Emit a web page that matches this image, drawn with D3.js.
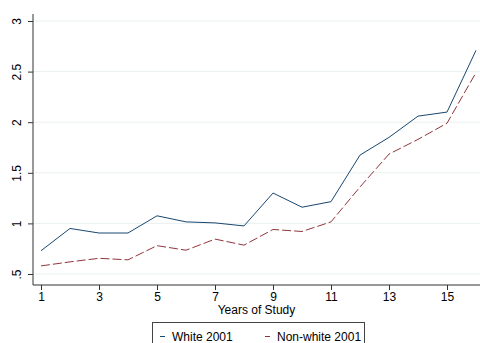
<!DOCTYPE html>
<html>
<head>
<meta charset="utf-8">
<script src="https://cdn.jsdelivr.net/npm/d3@7"></script>
<style>
  body { margin: 0; background: #fff; }
  text { font-family: "Liberation Sans", Arial, sans-serif; }
</style>
</head>
<body>
<div id="chart"></div>
<script>
const years = [1, 2, 3, 4, 5, 6, 7, 8, 9, 10, 11, 12, 13, 14, 15, 16]
const white2001 = [0.73, 0.95, 0.905, 0.905, 1.075, 1.015, 1.005, 0.975, 1.30, 1.16, 1.215, 1.675, 1.85, 2.06, 2.10, 2.71]
const nonWhite2001 = [0.58, 0.62, 0.655, 0.64, 0.78, 0.735, 0.845, 0.785, 0.94, 0.92, 1.015, 1.36, 1.685, 1.83, 1.99, 2.49]
const xTicks = [1, 3, 5, 7, 9, 11, 13, 15]
const yTicks = [0.5, 1, 1.5, 2, 2.5, 3]
const seriesNames = ['White 2001', 'Non-white 2001']

const fontFamily = '"Liberation Sans", Arial, sans-serif'

function draw() {
    const dimensions = {
        width: 480,
        height: 343,
        margin: { top: 14, right: 0, bottom: 58, left: 33 }
    }

    const svg = d3.select('#chart')
        .append('svg')
        .attr('width', dimensions.width)
        .attr('height', dimensions.height)

    const xScale = d3.scaleLinear()
        .domain([1, 16])
        .range([41, 476])

    const yScale = d3.scaleLinear()
        .domain([0.5, 3])
        .range([274, 21])

    const axisY = 285

    // grid
    svg.append('g')
        .selectAll('line')
        .data(yTicks)
        .join('line')
        .attr('x1', dimensions.margin.left)
        .attr('x2', dimensions.width)
        .attr('y1', d => yScale(d))
        .attr('y2', d => yScale(d))
        .attr('stroke', '#eaf0f0')
        .attr('stroke-width', 1)

    // y axis
    const yAxis = d3.axisLeft(yScale)
        .tickValues(yTicks)
        .tickSize(5)
        .tickFormat(d => String(d).replace(/^0/, ''))

    const yAxisGroup = svg.append('g')
        .attr('transform', `translate(${dimensions.margin.left},0)`)
        .call(yAxis)
    yAxisGroup.select('.domain')
        .attr('d', `M0,${dimensions.margin.top}V${axisY}`)
        .attr('stroke', '#333')
    yAxisGroup.selectAll('.tick line').attr('stroke', '#333')
    yAxisGroup.selectAll('.tick text')
        .attr('x', null)
        .attr('dy', null)
        .attr('transform', 'translate(-12,0) rotate(-90)')
        .attr('text-anchor', 'middle')
        .attr('font-size', 12)
        .attr('font-family', fontFamily)
        .attr('fill', '#000')

    // x axis
    const xAxis = d3.axisBottom(xScale)
        .tickValues(xTicks)
        .tickSize(5)
        .tickPadding(2)

    const xAxisGroup = svg.append('g')
        .attr('transform', `translate(0,${axisY})`)
        .call(xAxis)
    xAxisGroup.select('.domain')
        .attr('d', `M${dimensions.margin.left},0H${dimensions.width}`)
        .attr('stroke', '#333')
    xAxisGroup.selectAll('.tick line').attr('stroke', '#333')
    xAxisGroup.selectAll('.tick text')
        .attr('font-size', 12)
        .attr('font-family', fontFamily)
        .attr('fill', '#000')

    svg.append('text')
        .attr('x', (dimensions.margin.left + dimensions.width) / 2)
        .attr('y', 314)
        .attr('text-anchor', 'middle')
        .attr('font-size', 12)
        .text('Years of Study')

    // lines
    const line = d3.line()
        .x((d, i) => xScale(years[i]))
        .y(d => yScale(d))

    svg.append('path')
        .datum(white2001)
        .attr('d', line)
        .attr('fill', 'none')
        .attr('stroke', '#1a476f')
        .attr('stroke-width', 1)

    svg.append('path')
        .datum(nonWhite2001)
        .attr('d', line)
        .attr('fill', 'none')
        .attr('stroke', '#90353b')
        .attr('stroke-width', 1)
        .attr('stroke-dasharray', '9,3')

    // legend
    const legend = svg.append('g')
    legend.append('rect')
        .attr('x', 152.5)
        .attr('y', 322.5)
        .attr('width', 212)
        .attr('height', 30)
        .attr('fill', '#fff')
        .attr('stroke', '#444')

    const items = [
        { name: seriesNames[0], color: '#1a476f', x: 160 },
        { name: seriesNames[1], color: '#90353b', x: 265 },
    ]
    items.forEach(item => {
        legend.append('line')
            .attr('x1', item.x)
            .attr('x2', item.x + 5)
            .attr('y1', 336.5)
            .attr('y2', 336.5)
            .attr('stroke', item.color)
        legend.append('text')
            .attr('x', item.x + 12)
            .attr('y', 340.5)
            .attr('font-size', 12)
            .text(item.name)
    })
}

draw()
</script>
</body>
</html>
